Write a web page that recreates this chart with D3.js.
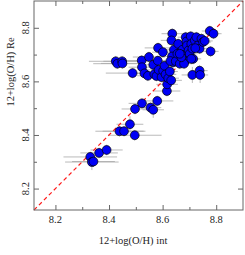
<!DOCTYPE html>
<html>
<head>
<meta charset="utf-8">
<script src="https://cdn.jsdelivr.net/npm/d3@7"></script>
<style>
  html, body { margin: 0; padding: 0; background: #fff; }
  svg { display: block; }
</style>
</head>
<body>
<div id="chart"></div>
<script>
// --- Data ---
const ohInt = [
  8.330, 8.336, 8.342, 8.363, 8.391, 8.439, 8.456, 8.478, 8.496, 8.497,
  8.523, 8.555, 8.565, 8.580, 8.616, 8.617, 8.425, 8.431, 8.449, 8.450,
  8.488, 8.522, 8.523, 8.532, 8.545, 8.549, 8.565, 8.569, 8.582, 8.583,
  8.577, 8.585, 8.596, 8.601, 8.602, 8.607, 8.611, 8.621, 8.627, 8.632,
  8.636, 8.633, 8.639, 8.642, 8.635, 8.629, 8.649, 8.658, 8.655, 8.664,
  8.674, 8.676, 8.683, 8.680, 8.686, 8.689, 8.691, 8.697, 8.701, 8.705,
  8.707, 8.711, 8.714, 8.711, 8.720, 8.726, 8.732, 8.738, 8.745, 8.738,
  8.740, 8.751, 8.757, 8.776, 8.790, 8.779, 8.670, 8.707, 8.722, 8.664
];
const ohRe = [
  8.318, 8.299, 8.301, 8.333, 8.344, 8.414, 8.414, 8.440, 8.399, 8.497,
  8.518, 8.502, 8.494, 8.527, 8.564, 8.589, 8.675, 8.666, 8.675, 8.667,
  8.631, 8.678, 8.653, 8.630, 8.621, 8.691, 8.662, 8.627, 8.677, 8.725,
  8.620, 8.643, 8.616, 8.709, 8.640, 8.658, 8.626, 8.612, 8.637, 8.604,
  8.778, 8.753, 8.671, 8.718, 8.693, 8.676, 8.675, 8.740, 8.703, 8.666,
  8.718, 8.699, 8.675, 8.666, 8.765, 8.749, 8.734, 8.716, 8.703, 8.768,
  8.740, 8.722, 8.684, 8.624, 8.753, 8.765, 8.734, 8.722, 8.759, 8.640,
  8.624, 8.747, 8.751, 8.788, 8.778, 8.712, 8.690, 8.684, 8.724, 8.703
];
const errInt = [
  0.10, 0.10, 0.08, 0.07, 0.06, 0.09, 0.08, 0.05, 0.10, 0.05,
  0.05, 0.04, 0.04, 0.06, 0.05, 0.04, 0.10, 0.09, 0.07, 0.08,
  0.10, 0.06, 0.05, 0.05, 0.04, 0.06, 0.05, 0.05, 0.05, 0.05,
  0.04, 0.05, 0.04, 0.04, 0.04, 0.04, 0.04, 0.04, 0.03, 0.04,
  0.04, 0.04, 0.04, 0.04, 0.04, 0.04, 0.04, 0.04, 0.03, 0.03,
  0.03, 0.03, 0.03, 0.03, 0.03, 0.04, 0.03, 0.03, 0.03, 0.03,
  0.03, 0.03, 0.03, 0.04, 0.03, 0.03, 0.03, 0.03, 0.03, 0.03,
  0.03, 0.03, 0.03, 0.03, 0.03, 0.03, 0.03, 0.03, 0.03, 0.03
];
const errRe = [
  0.02, 0.03, 0.02, 0.02, 0.02, 0.02, 0.02, 0.03, 0.02, 0.02,
  0.02, 0.02, 0.03, 0.02, 0.02, 0.02, 0.02, 0.02, 0.02, 0.02,
  0.02, 0.02, 0.02, 0.02, 0.02, 0.02, 0.02, 0.02, 0.02, 0.02,
  0.02, 0.02, 0.02, 0.02, 0.02, 0.02, 0.02, 0.02, 0.02, 0.02,
  0.02, 0.02, 0.02, 0.02, 0.02, 0.02, 0.02, 0.02, 0.02, 0.02,
  0.02, 0.02, 0.02, 0.02, 0.02, 0.02, 0.02, 0.02, 0.02, 0.02,
  0.02, 0.02, 0.02, 0.03, 0.02, 0.02, 0.02, 0.02, 0.02, 0.02,
  0.03, 0.02, 0.02, 0.02, 0.02, 0.02, 0.02, 0.02, 0.02, 0.02
];
const domain = [8.12, 8.9];
const majorTicks = [8.2, 8.4, 8.6, 8.8];
const minorTicks = [8.3, 8.5, 8.7];
const xTitle = "12+log(O/H) int";
const yTitle = "12+log(O/H) Re";

// --- Layout ---
const W = 245, H = 255;
const m = { left: 34, right: 2, top: 1, bottom: 45 };
const pw = W - m.left - m.right, ph = H - m.top - m.bottom;
const FONT = "'Liberation Serif', 'Times New Roman', 'DejaVu Serif', serif";

const x = d3.scaleLinear().domain(domain).range([0, pw]);
const y = d3.scaleLinear().domain(domain).range([ph, 0]);

const svg = d3.select("#chart").append("svg")
  .attr("width", W).attr("height", H);
const g = svg.append("g").attr("transform", `translate(${m.left},${m.top})`);

svg.append("defs").append("clipPath").attr("id", "clip")
  .append("rect").attr("width", pw).attr("height", ph);

const points = ohInt.map((v, i) => ({ x: v, y: ohRe[i], ex: errInt[i], ey: errRe[i] }));

// --- Error bars ---
const eb = g.append("g").attr("clip-path", "url(#clip)")
  .attr("stroke", "#a8a8a8").attr("stroke-width", 0.8);
eb.selectAll("line.ex").data(points).join("line").attr("class", "ex")
  .attr("x1", d => x(d.x - d.ex)).attr("x2", d => x(d.x + d.ex))
  .attr("y1", d => y(d.y)).attr("y2", d => y(d.y));
eb.selectAll("line.ey").data(points).join("line").attr("class", "ey")
  .attr("x1", d => x(d.x)).attr("x2", d => x(d.x))
  .attr("y1", d => y(d.y - d.ey)).attr("y2", d => y(d.y + d.ey));

// --- 1:1 line ---
g.append("line")
  .attr("x1", x(domain[0])).attr("y1", y(domain[0]))
  .attr("x2", x(domain[1])).attr("y2", y(domain[1]))
  .style("stroke", "#ff1a1a").style("stroke-width", "1.2px")
  .style("stroke-dasharray", "4 3");

// --- Points ---
g.append("g").selectAll("circle").data(points).join("circle")
  .attr("cx", d => x(d.x)).attr("cy", d => y(d.y))
  .attr("r", 4.4)
  .attr("fill", "#0000f5").attr("stroke", "#000").attr("stroke-width", 0.7);

// --- Frame + ticks on all sides ---
g.append("rect").attr("width", pw).attr("height", ph)
  .attr("fill", "none").attr("stroke", "#666").attr("stroke-width", 1);

function ticks(axisGen, transform, major) {
  const a = g.append("g").attr("transform", transform)
    .call(axisGen.tickValues(major ? majorTicks : minorTicks)
      .tickSize(major ? 5 : 3).tickFormat(""));
  a.select(".domain").remove();
  a.selectAll("line").attr("stroke", "#666");
  return a;
}
[true, false].forEach(major => {
  ticks(d3.axisTop(x), `translate(0,${ph})`, major);
  ticks(d3.axisBottom(x), "translate(0,0)", major);
  ticks(d3.axisRight(y), "translate(0,0)", major);
  ticks(d3.axisLeft(y), `translate(${pw},0)`, major);
});

// tick labels
g.append("g").selectAll("text").data(majorTicks).join("text")
  .attr("x", d => x(d)).attr("y", ph + 13)
  .attr("text-anchor", "middle").attr("font-size", 10.5)
  .attr("font-family", FONT).attr("fill", "#222")
  .text(d3.format(".1f"));
g.append("g").selectAll("text").data(majorTicks).join("text")
  .attr("transform", d => `translate(-5,${y(d)}) rotate(-90)`)
  .attr("text-anchor", "middle").attr("font-size", 10.5)
  .attr("font-family", FONT).attr("fill", "#222")
  .text(d3.format(".1f"));

// titles
svg.append("text")
  .attr("x", 133).attr("y", 244)
  .attr("text-anchor", "middle").attr("font-size", 10.5)
  .attr("font-family", FONT).attr("fill", "#222")
  .text(xTitle);
svg.append("text")
  .attr("transform", "translate(14,72) rotate(-90)")
  .attr("text-anchor", "middle").attr("font-size", 10.5)
  .attr("font-family", FONT).attr("fill", "#222")
  .text(yTitle);
</script>
</body>
</html>
